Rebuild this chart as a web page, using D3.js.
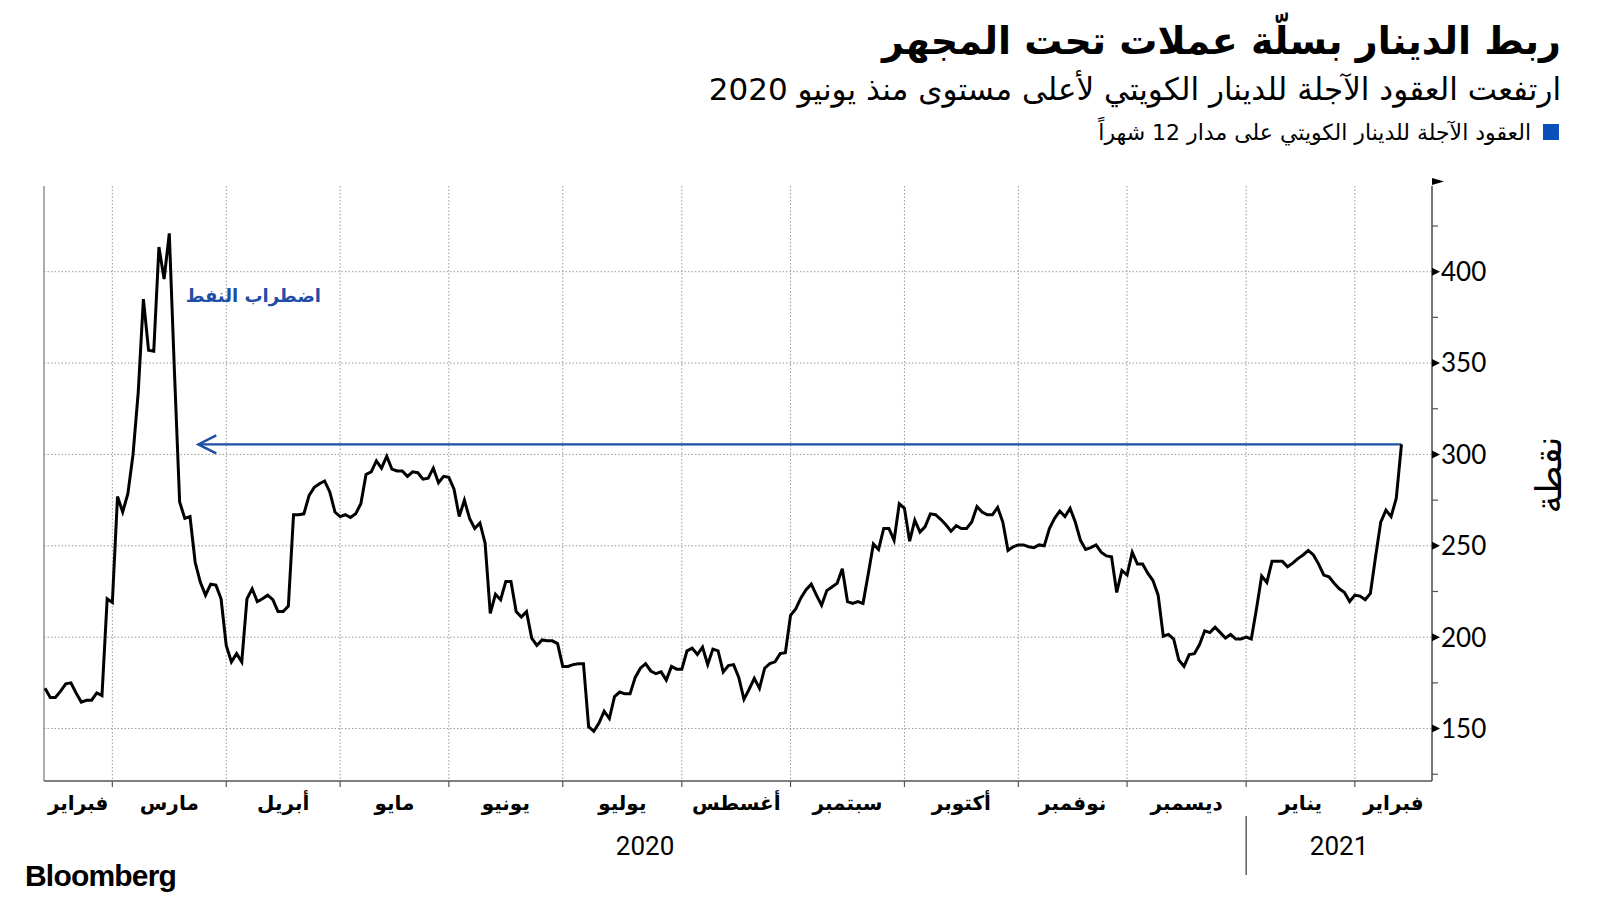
<!DOCTYPE html>
<html><head><meta charset="utf-8">
<script src="https://cdn.jsdelivr.net/npm/d3@7"></script>
<style>
body{margin:0;background:#fff}
svg{display:block}
</style>
</head><body>
<svg id="chart" width="1600" height="901"></svg>
<script>
// ---- Data: 12-month KWD forward points, one value per weekday ----
const startDate = "2020-02-12";
const feb2020 = [172,167,167,170.5,174.5,175,169.5,164.5,165.5,165.5,169.5,168,221];
const mar2020 = [219,277,268.5,278.5,300,334,385,357,356.5,413.5,396,421,345,274,265,266,241,230,223,229,228.5,221];
const apr2020 = [195.5,186.5,191,186.5,221,226.5,219.5,221,223,220.5,214,214,217,267,267,267.5,277.5,282,284,285.5,279.5,268.5];
const may2020 = [266,267,265.5,267.5,273,289,290.5,296.5,292.5,299,292,291,291,288,290.5,290,286.5,287,292.5,284.5,288];
const jun2020 = [287.5,281,266,275,265,259.5,262.5,251.5,213,223.5,220.5,230.5,230.5,214,211,214,199.5,195.5,198.5,198,198,196.5];
const jul2020 = [184,184,185,185.5,185.5,151,148.5,153,159.5,155.5,167.5,170,169,169,178,183,185.5,181.5,180,181,176.5,184,182.5];
const aug2020 = [182.5,192.5,194,190.5,194.5,185,193.5,192.5,181,184.5,185,178,166,171.5,177.5,172,183,185.5,186.5,191,191.5];
const sep2020 = [212,215.5,221.5,226,229,223,217.5,225.5,227.5,229.5,237.5,219.5,218.5,219.5,218.5,234.5,251,248,259.5,259.5,253,273];
const oct2020 = [270.5,252.5,264,257.5,260.5,267.5,267,264.5,261.5,258,261,259.5,259.5,263,271.5,268.5,267,267,271,263,247.5,249.5];
const nov2020 = [250.5,250.5,249.5,249,250.5,250,259.5,265,269,266,270.5,263,253,248,249,250.5,246.5,244.5,244,224.5,236.5];
const dec2020 = [234,246.5,240,240,235,231,223,200.5,201.5,199,187.5,184,190.5,191,196,203.5,202.5,205.5,202.5,199.5,201.5,199,199];
const jan2021 = [200,199,215.5,233.5,230,241.5,241.5,241.5,238.5,240.5,243,245,247.5,245,240,234,233,229.5,226.5,224.5,219.5];
const feb2021 = [223,222.5,220.5,224,244,263,269.5,266,276,305.5];

const monthLabels = ["فبراير","مارس","أبريل","مايو","يونيو","يوليو","أغسطس","سبتمبر","أكتوبر","نوفمبر","ديسمبر","يناير","فبراير"];
const yearLabels = ["2020","2021"];
const yTicks = [150,200,250,300,350,400];
const yMinorTicks = [125,175,225,275,325,375,425];

const titleText = "ربط الدينار بسلّة عملات تحت المجهر";
const subtitleText = "ارتفعت العقود الآجلة للدينار الكويتي لأعلى مستوى منذ يونيو 2020";
const legendText = "العقود الآجلة للدينار الكويتي على مدار 12 شهراً";
const yAxisTitle = "نقطة";
const annotationText = "اضطراب النفط";
const arrowTipDay = 29.6;      // trading-day position of arrow tip (late March 2020)
const annotationDay = 53.3;    // trading-day position of annotation right end
const annotationValue = 387;

// ---- Build weekday calendar ----
const values = [].concat(feb2020,mar2020,apr2020,may2020,jun2020,jul2020,aug2020,sep2020,oct2020,nov2020,dec2020,jan2021,feb2021);
const parse = d3.timeParse("%Y-%m-%d");
const dates = [];
{
  let d = parse(startDate);
  while (dates.length < values.length) {
    const wd = d.getDay();
    if (wd !== 0 && wd !== 6) dates.push(new Date(d));
    d = d3.timeDay.offset(d, 1);
  }
}
const data = values.map((v,i)=>({i, date: dates[i], v}));

// ---- Layout ----
const plotL = 44, plotR = 1432, plotT = 186, plotB = 781;
const svg = d3.select("#chart");
const AR = "'DejaVu Sans', sans-serif";

const x = d3.scaleLinear().domain([-0.2, 267.9]).range([plotL, plotR]);
const y = d3.scaleLinear().domain([121.3, 446.9]).range([plotB, plotT]);

// month boundaries: first weekday of each month
const bounds = [];
data.forEach((d,k)=>{
  if (k>0 && d.date.getMonth() !== data[k-1].date.getMonth()) bounds.push(k);
});

// ---- Grid ----
const g = svg.append("g");
g.selectAll(".hgrid").data(yTicks).join("line")
  .attr("x1", plotL).attr("x2", plotR)
  .attr("y1", d=>y(d)).attr("y2", d=>y(d))
  .attr("stroke","#9a9a9a").attr("stroke-width",1).attr("stroke-dasharray","1.5,2");
g.selectAll(".vgrid").data(bounds).join("line")
  .attr("x1", d=>x(d)).attr("x2", d=>x(d))
  .attr("y1", plotT).attr("y2", plotB)
  .attr("stroke","#9a9a9a").attr("stroke-width",1).attr("stroke-dasharray","1.5,2");

// left frame
g.append("line").attr("x1",plotL).attr("x2",plotL).attr("y1",plotT).attr("y2",plotB)
  .attr("stroke","#777").attr("stroke-width",1.2);

// ---- Right y-axis ----
const ya = svg.append("g");
ya.append("line").attr("x1",plotR).attr("x2",plotR).attr("y1",plotT).attr("y2",plotB)
  .attr("stroke","#555").attr("stroke-width",1.6);
ya.append("path").attr("d",`M${plotR},${plotT-8} L${plotR+12},${plotT-4.5} L${plotR},${plotT-1} Z`).attr("fill","#000");
ya.selectAll(".tri").data(yTicks).join("path")
  .attr("d", d=>`M${plotR},${y(d)-4} L${plotR+8},${y(d)} L${plotR},${y(d)+4} Z`).attr("fill","#000");
ya.selectAll(".minor").data(yMinorTicks).join("line")
  .attr("x1",plotR).attr("x2",plotR+6).attr("y1",d=>y(d)).attr("y2",d=>y(d))
  .attr("stroke","#555").attr("stroke-width",1.2);
ya.selectAll(".ylab").data(yTicks).join("text")
  .attr("x", plotR+9).attr("y", d=>y(d)).attr("dy","0.36em")
  .attr("font-family","Lato, 'Open Sans', sans-serif").attr("font-size",26).attr("fill","#000")
  .text(d=>d);
svg.append("text").attr("transform",`translate(1548,475) rotate(-90)`)
  .attr("text-anchor","middle").attr("dy","0.35em")
  .attr("font-family",AR).attr("font-size",36).attr("fill","#000").text(yAxisTitle);

// ---- Bottom x-axis ----
const xa = svg.append("g");
xa.append("line").attr("x1",plotL).attr("x2",plotR).attr("y1",plotB).attr("y2",plotB)
  .attr("stroke","#555").attr("stroke-width",1.6);
xa.selectAll(".xt").data(bounds).join("line")
  .attr("x1",d=>x(d)).attr("x2",d=>x(d)).attr("y1",plotB).attr("y2",plotB+6)
  .attr("stroke","#555").attr("stroke-width",1.2);
const edges = [x.domain()[0]].concat(bounds, [x.domain()[1]]);
xa.selectAll(".ml").data(monthLabels).join("text")
  .attr("x",(d,k)=>(x(edges[k])+x(edges[k+1]))/2).attr("y",803).attr("dy","0.35em")
  .attr("text-anchor","middle").attr("font-family",AR).attr("font-weight","bold")
  .attr("font-size",20).attr("fill","#000").text(d=>d);
const janIdx = bounds.find(k=>data[k].date.getMonth()===0);
const yearEdges = [x.domain()[0], janIdx, x.domain()[1]];
xa.selectAll(".yl").data(yearLabels).join("text")
  .attr("x",(d,k)=>(x(yearEdges[k])+x(yearEdges[k+1]))/2).attr("y",846).attr("dy","0.35em")
  .attr("text-anchor","middle").attr("font-family","Roboto, sans-serif")
  .attr("font-size",26).attr("fill","#000").text(d=>d);
xa.append("line").attr("x1",x(janIdx)).attr("x2",x(janIdx)).attr("y1",816).attr("y2",875)
  .attr("stroke","#333").attr("stroke-width",1.2);

// ---- Arrow annotation ----
const last = data[data.length-1];
const blue = "#1f4ea6";
const ay = y(last.v);
svg.append("line").attr("x1",x(last.i)).attr("x2",x(arrowTipDay)).attr("y1",ay).attr("y2",ay)
  .attr("stroke",blue).attr("stroke-width",2.4);
svg.append("path").attr("d",`M${x(arrowTipDay)+18},${ay-9} L${x(arrowTipDay)},${ay} L${x(arrowTipDay)+18},${ay+9}`)
  .attr("fill","none").attr("stroke",blue).attr("stroke-width",2.4);
svg.append("text").attr("x",x(annotationDay)).attr("y",y(annotationValue)).attr("dy","0.35em")
  .attr("text-anchor","end").attr("font-family",AR).attr("font-weight","bold")
  .attr("font-size",18).attr("fill",blue).text(annotationText);

// ---- Line ----
const line = d3.line().x(d=>x(d.i)).y(d=>y(d.v));
svg.append("path").datum(data).attr("d",line)
  .attr("fill","none").attr("stroke","#000").attr("stroke-width",3).attr("stroke-linejoin","miter");

// ---- Titles & legend ----
svg.append("text").attr("x",1561).attr("y",54).attr("text-anchor","end")
  .attr("font-family",AR).attr("font-weight","bold").attr("font-size",38).attr("fill","#000")
  .text(titleText);
svg.append("text").attr("x",1561).attr("y",100).attr("text-anchor","end")
  .attr("font-family",AR).attr("font-size",31).attr("fill","#000")
  .text(subtitleText);
svg.append("rect").attr("x",1543).attr("y",124).attr("width",16).attr("height",16).attr("fill","#0b4fb8");
svg.append("text").attr("x",1531).attr("y",132).attr("dy","0.35em").attr("text-anchor","end")
  .attr("font-family",AR).attr("font-size",22).attr("fill","#000")
  .text(legendText);

svg.append("text").attr("x",25).attr("y",886)
  .attr("font-family","'Liberation Sans', Arial, sans-serif").attr("font-weight","bold")
  .attr("font-size",30).attr("letter-spacing","-0.8").attr("fill","#000").text("Bloomberg");
</script>
</body></html>
